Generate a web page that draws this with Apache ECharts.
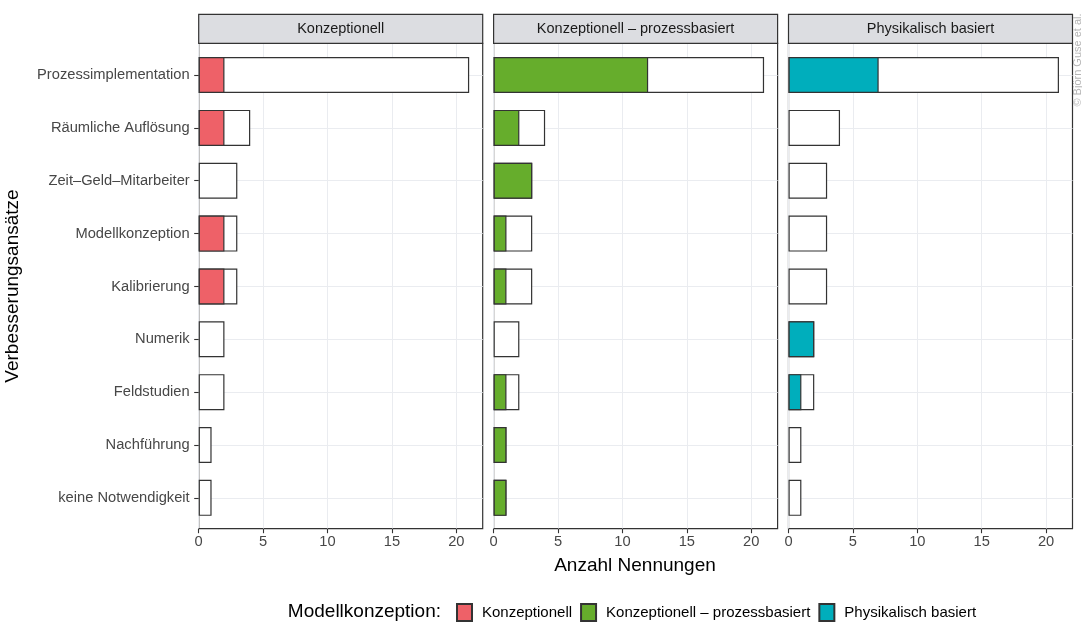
<!DOCTYPE html>
<html>
<head>
<meta charset="utf-8">
<script src="https://cdn.jsdelivr.net/npm/echarts@6/dist/echarts.min.js"></script>
<style>
  html, body { margin: 0; padding: 0; background: #ffffff; }
  #chart { width: 1082px; height: 623px; }
</style>
</head>
<body>
<div id="chart"></div>
<script>
// Improvement approaches (y categories), top to bottom
const categories = [
  'Prozessimplementation',
  'Räumliche Auflösung',
  'Zeit–Geld–Mitarbeiter',
  'Modellkonzeption',
  'Kalibrierung',
  'Numerik',
  'Feldstudien',
  'Nachführung',
  'keine Notwendigkeit'
];

// Total mentions per approach (white bar, repeated in every panel)
const totals = [21, 4, 3, 3, 3, 2, 2, 1, 1];

// Mentions by model conception (coloured bar per panel)
const konzeptionell = [2, 2, 0, 2, 2, 0, 0, 0, 0];
const prozessbasiert = [12, 2, 3, 1, 1, 0, 1, 1, 1];
const physikalisch = [7, 0, 0, 0, 0, 2, 1, 0, 0];

const panelNames = ['Konzeptionell', 'Konzeptionell – prozessbasiert', 'Physikalisch basiert'];
const panelValues = [konzeptionell, prozessbasiert, physikalisch];
const panelColors = ['#ee6168', '#66ad2c', '#00aebc'];

const xTicks = [0, 5, 10, 15, 20];
const xMax = 22.05;

const FONT = '"Liberation Sans", Arial, Helvetica, sans-serif';
const EDGE = '#333333';
const GRIDLINE = '#eaecf0';

const panelLeft = [198.7, 493.6, 788.5];
const panelWidth = 284;
const frameTop = 43.3, frameHeight = 485.4;
const barTop = 48.6, barHeight = 475.7;

const grids = [], xAxes = [], yAxes = [], series = [], graphics = [];

panelNames.forEach((name, i) => {
  const left = panelLeft[i];
  // frame grid: border, vertical grid lines, x ticks and labels
  grids.push({ left: left, top: frameTop, width: panelWidth, height: frameHeight,
    show: true, borderColor: EDGE, borderWidth: 1.2, backgroundColor: '#ffffff', containLabel: false });
  // bar grid: categories with padding at both ends
  grids.push({ left: left, top: barTop, width: panelWidth, height: barHeight, containLabel: false });

  xAxes.push({
    type: 'value', gridIndex: 2 * i, min: 0, max: xMax, interval: 2.5,
    axisLine: { show: false },
    axisTick: { show: true, customValues: xTicks, length: 4.5, lineStyle: { color: EDGE, width: 1.1 } },
    axisLabel: { show: true, customValues: xTicks, margin: 6, fontSize: 14.7, color: '#474747', fontFamily: FONT },
    splitLine: { show: true, lineStyle: { color: GRIDLINE, width: 1 } }
  });
  yAxes.push({ type: 'value', gridIndex: 2 * i, show: false });

  xAxes.push({ type: 'value', gridIndex: 2 * i + 1, min: 0, max: xMax, show: false });
  yAxes.push({
    type: 'category', gridIndex: 2 * i + 1, data: categories, inverse: true,
    axisLine: { show: false },
    axisTick: { show: i === 0, alignWithLabel: true, length: 4.5, lineStyle: { color: EDGE, width: 1.1 } },
    axisLabel: { show: i === 0, margin: 9, fontSize: 14.7, color: '#474747', fontFamily: FONT },
    splitLine: { show: true, alignWithLabel: true, lineStyle: { color: GRIDLINE, width: 1 } }
  });

  series.push({
    type: 'bar', name: 'Gesamt', xAxisIndex: 2 * i + 1, yAxisIndex: 2 * i + 1,
    data: totals, barWidth: 36, barGap: '-100%', silent: true,
    itemStyle: { color: '#ffffff', borderColor: EDGE, borderWidth: 1.2 }
  });
  series.push({
    type: 'bar', name: name, xAxisIndex: 2 * i + 1, yAxisIndex: 2 * i + 1,
    data: panelValues[i].map(v => (v > 0 ? v : '-')), barWidth: 36, barGap: '-100%', silent: true,
    itemStyle: { color: panelColors[i], borderColor: EDGE, borderWidth: 1.2 }
  });

  // facet strip
  graphics.push({
    type: 'rect', shape: { x: left, y: 14.3, width: panelWidth, height: 29 },
    style: { fill: '#dcdde1', stroke: EDGE, lineWidth: 1.2 }, z: 10
  });
  graphics.push({
    type: 'text', x: left + panelWidth / 2, y: 28.8, z: 11,
    style: { text: name, fontSize: 14.5, fill: '#1a1a1a', fontFamily: FONT, align: 'center', verticalAlign: 'middle' }
  });
});

// axis titles, legend title and credit line
graphics.push({
  type: 'text', x: 635, y: 566, z: 11,
  style: { text: 'Anzahl Nennungen', fontSize: 19, fill: '#000000', fontFamily: FONT, align: 'center', verticalAlign: 'middle' }
});
graphics.push({
  type: 'text', x: 13, y: 286, rotation: Math.PI / 2, z: 11,
  style: { text: 'Verbesserungsansätze', fontSize: 19, fill: '#000000', fontFamily: FONT, align: 'center', verticalAlign: 'middle' }
});
graphics.push({
  type: 'text', x: 441, y: 612, z: 11,
  style: { text: 'Modellkonzeption:', fontSize: 19, fill: '#000000', fontFamily: FONT, align: 'right', verticalAlign: 'middle' }
});
graphics.push({
  type: 'text', x: 1078, y: 60, rotation: Math.PI / 2, z: 11,
  style: { text: '© Björn Guse et al.', fontSize: 11, fill: '#b5b5b5', fontFamily: FONT, align: 'center', verticalAlign: 'middle' }
});

const chart = echarts.init(document.getElementById('chart'), null, { renderer: 'canvas' });
chart.setOption({
  animation: false,
  backgroundColor: '#ffffff',
  grid: grids,
  xAxis: xAxes,
  yAxis: yAxes,
  series: series,
  legend: {
    data: panelNames, left: 456, top: 603, padding: 0,
    icon: 'rect', itemWidth: 15, itemHeight: 17, itemGap: 8,
    textStyle: { fontSize: 15, color: '#000000', fontFamily: FONT, padding: [0, 0, 0, 5] },
    selectedMode: false
  },
  graphic: graphics
});
</script>
</body>
</html>
